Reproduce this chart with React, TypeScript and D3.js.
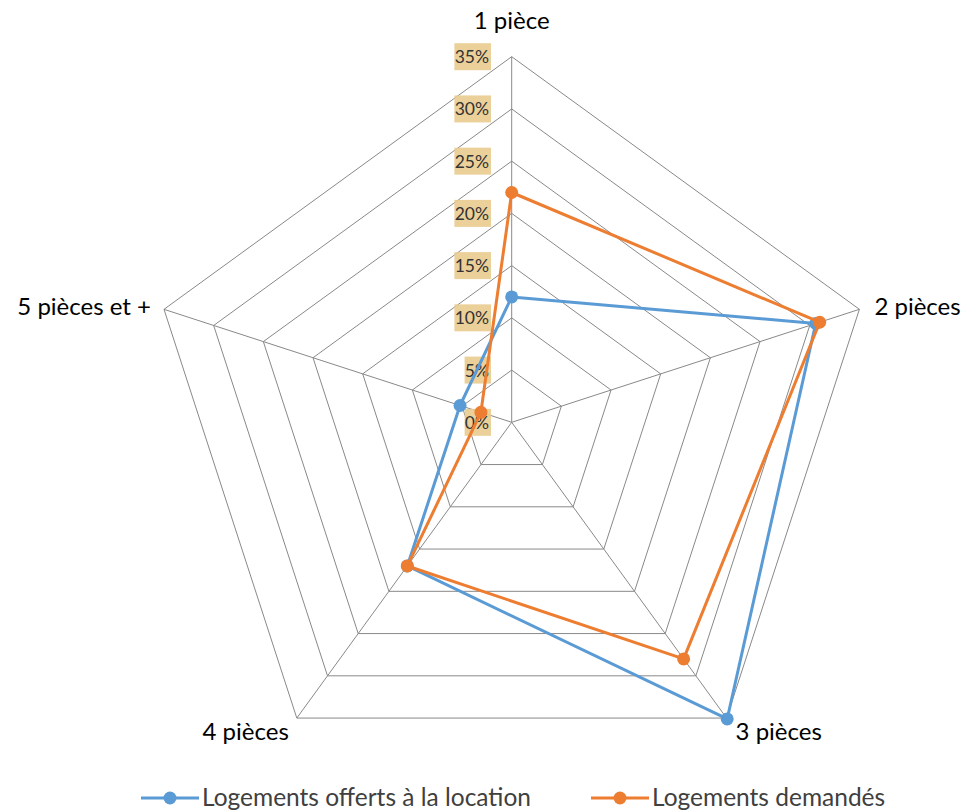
import React from "react";
import * as d3 from "d3";

const categories = ["1 pièce", "2 pièces", "3 pièces", "4 pièces", "5 pièces et +"];
const seriesNames = ["Logements offerts à la location", "Logements demandés"];
const offerts = [12.0, 30.6, 35.1, 17.0, 5.2];
const demandes = [22.0, 31.0, 28.0, 17.0, 3.1];
const ticks = [0, 5, 10, 15, 20, 25, 30, 35];
const colors = ["#5B9BD5", "#ED7D31"];

const W = 962, H = 811;
const cx = 511.7, cy = 422.3, R = 365.6;
const font = "Lato, 'Open Sans', sans-serif";

export default function App() {
  const r = d3.scaleLinear().domain([0, 35]).range([0, R]);
  const angle = (i: number) => (i * 2 * Math.PI) / categories.length;
  const pt = (i: number, v: number): [number, number] => [
    cx + r(v) * Math.sin(angle(i)),
    cy - r(v) * Math.cos(angle(i)),
  ];
  const line = d3.line<[number, number]>().curve(d3.curveLinearClosed);
  const series = [offerts, demandes];

  const labelPos = [
    { dx: 0, dy: -28, anchor: "middle" },
    { dx: 15, dy: 6, anchor: "start" },
    { dx: 9, dy: 22, anchor: "start" },
    { dx: -8, dy: 22, anchor: "end" },
    { dx: -13, dy: 6, anchor: "end" },
  ];

  return (
    <svg width={W} height={H} style={{ position: "absolute", left: 0, top: 0, background: "#fff" }}>
      {ticks.slice(1).map((t) => (
        <path
          key={t}
          d={line(categories.map((_, i) => pt(i, t))) || ""}
          fill="none"
          stroke="#898989"
          strokeWidth={1}
        />
      ))}
      {categories.map((_, i) => {
        const [x, y] = pt(i, 35);
        return <line key={i} x1={cx} y1={cy} x2={x} y2={y} stroke="#898989" strokeWidth={1} />;
      })}
      {ticks.map((t) => {
        const y = cy - r(t);
        const label = `${t}%`;
        const w = label.length * 10.2 + 6;
        return (
          <g key={t}>
            <rect x={491 - w} y={y - 13.5} width={w} height={27} fill="#E9CB8F" opacity={0.9} />
            <text x={489} y={y + 6.5} textAnchor="end" fontFamily={font} fontSize={17.5} fill="#333">
              {label}
            </text>
          </g>
        );
      })}
      {series.map((s, k) => (
        <g key={k}>
          <path
            d={line(s.map((v, i) => pt(i, v))) || ""}
            fill="none"
            stroke={colors[k]}
            strokeWidth={3}
            strokeLinejoin="round"
          />
          {s.map((v, i) => {
            const [x, y] = pt(i, v);
            return <circle key={i} cx={x} cy={y} r={6.5} fill={colors[k]} />;
          })}
        </g>
      ))}
      {categories.map((c, i) => {
        const [x, y] = pt(i, 35);
        const p = labelPos[i];
        return (
          <text
            key={c}
            x={x + p.dx}
            y={y + p.dy}
            textAnchor={p.anchor as any}
            fontFamily={font}
            fontSize={24}
            fill="#000"
          >
            {c}
          </text>
        );
      })}
      {seriesNames.map((n, k) => {
        const x0 = k === 0 ? 141 : 591;
        const y = 798;
        return (
          <g key={n}>
            <line x1={x0} x2={x0 + 58} y1={y} y2={y} stroke={colors[k]} strokeWidth={3} />
            <circle cx={x0 + 29} cy={y} r={6.5} fill={colors[k]} />
            <text x={x0 + 61} y={y + 8} fontFamily={font} fontSize={24.5} fill="#404040">
              {n}
            </text>
          </g>
        );
      })}
    </svg>
  );
}
